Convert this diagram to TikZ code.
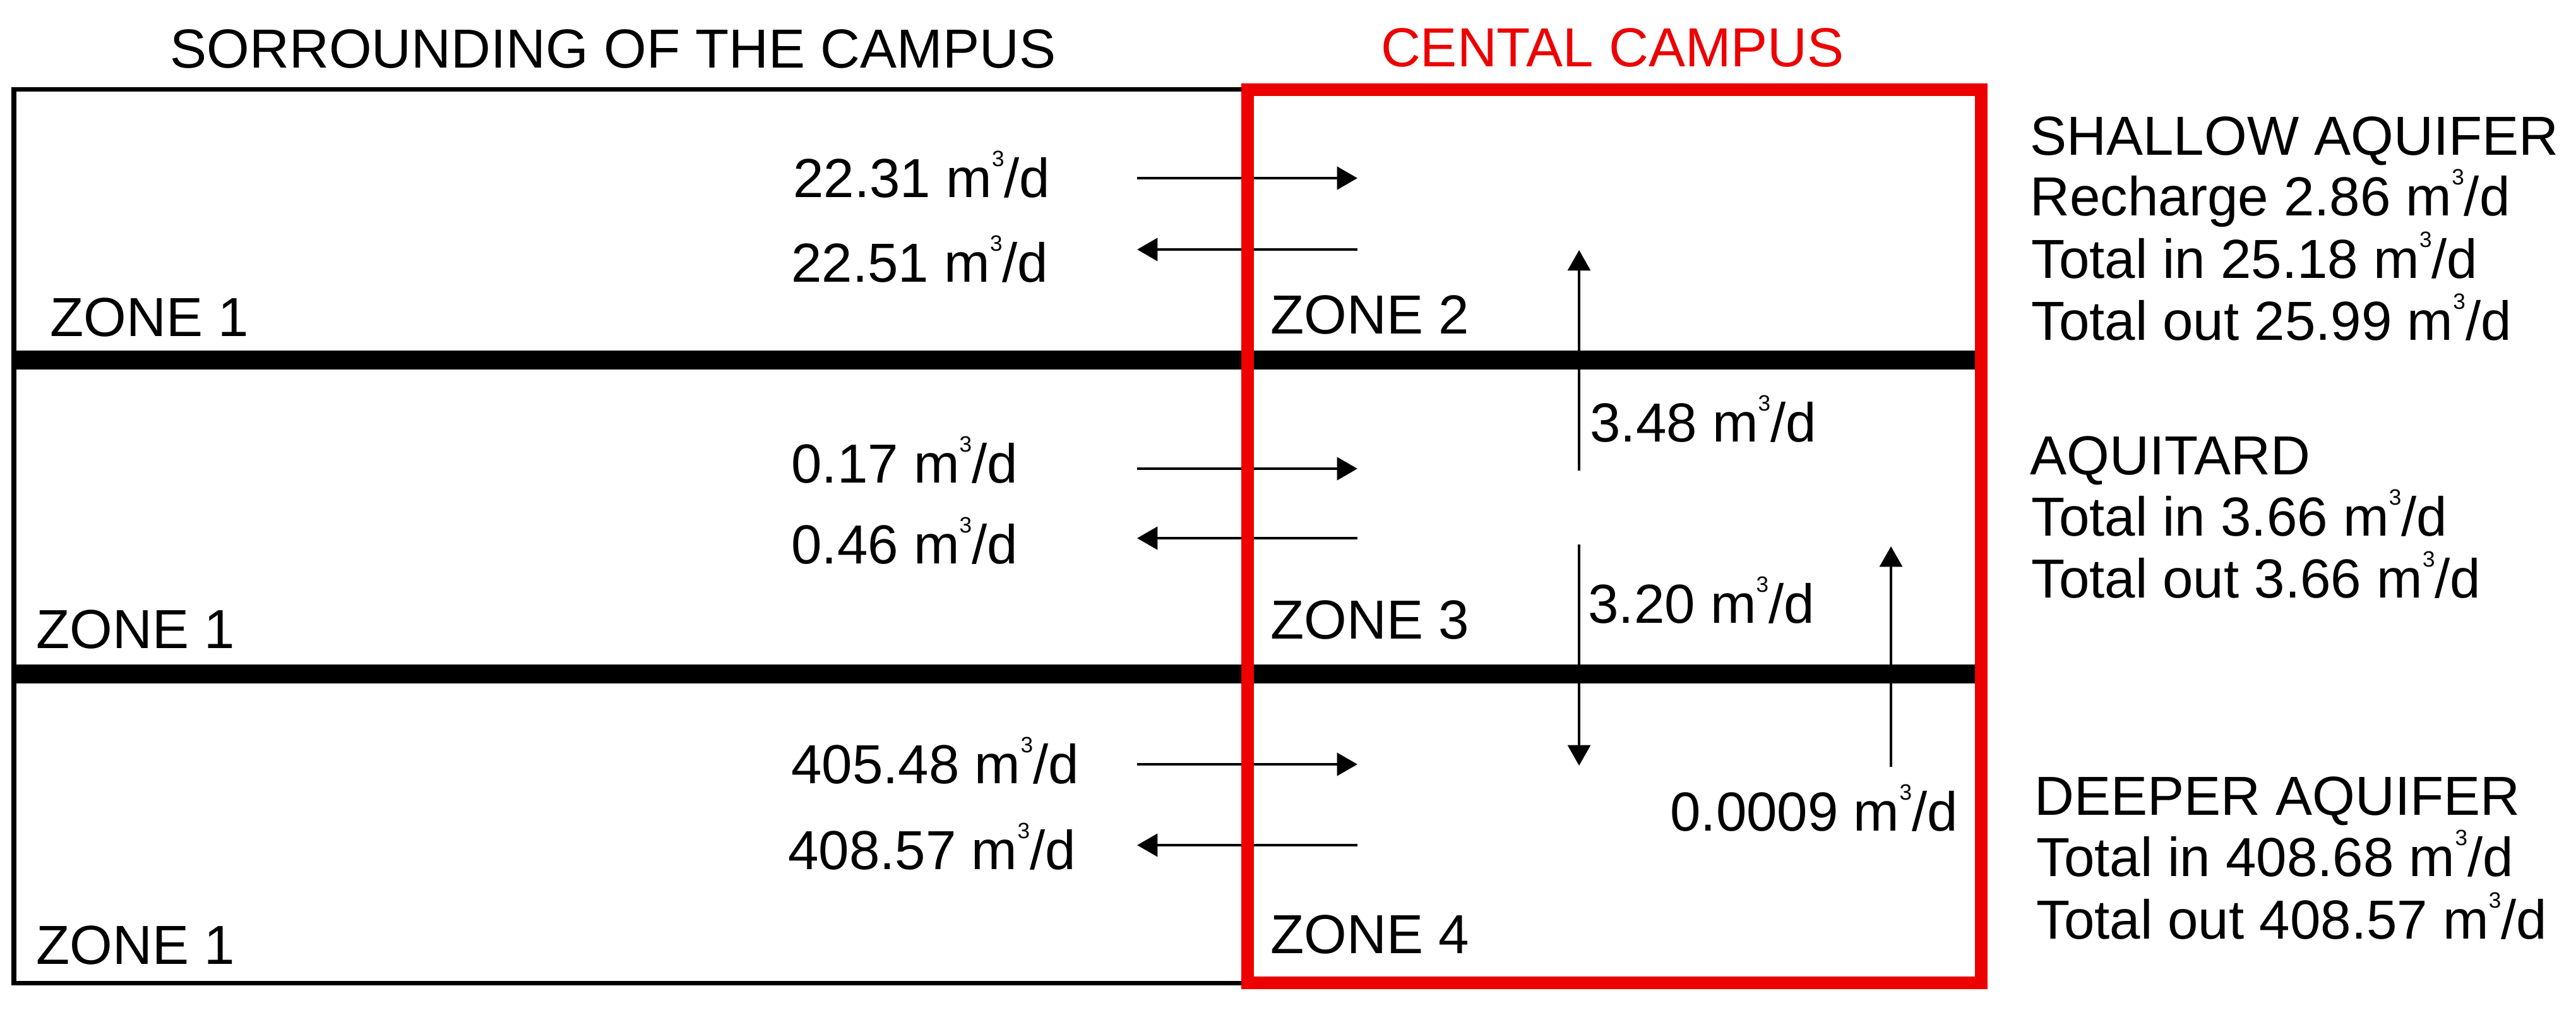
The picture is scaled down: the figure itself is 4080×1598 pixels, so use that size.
\documentclass[tikz,border=0pt]{standalone}
\usepackage{fontspec}
\setmainfont{Liberation Sans}
\usetikzlibrary{arrows.meta, positioning}
\definecolor{campusred}{RGB}{236,0,0}
\newcommand{\qunit}{m\raisebox{1.05ex}{\fontsize{5}{5}\selectfont 3}/d}
\tikzset{
        >={Triangle[length=4.6pt,width=5.1pt]}, % filled arrow heads
        txt/.style={inner sep=0pt, anchor=base west},
        hflow/.style={->, line width=0.7pt},
        vflow/.style={->, line width=0.5pt},
        bar/.style={line width=4.3pt},
        outline/.style={line width=1pt},
        campus/.style={draw=campusred, line width=2.9pt}
        }

\begin{document}
\begin{tikzpicture}[x=0.005cm, y=-0.005cm, font=\fontsize{12.4}{14}\selectfont]
        \useasboundingbox (0,0) rectangle (4080,1598);
        % titles
        \node[inner sep=0pt, anchor=base] (tsur) at (971,107) {SORROUNDING OF THE CAMPUS};
        \node[inner sep=0pt, anchor=base, text=campusred] (tcen) at (2554,105) {CENTAL CAMPUS};

        % corners of the model
        \coordinate (tl) at (22,141);
        \coordinate (tm) at (1976,141);
        \coordinate (bl) at (22,1556);
        \coordinate (bm) at (1976,1556);
        \coordinate (l1w) at (22,570);
        \coordinate (l1e) at (3138,570);
        \coordinate (l2w) at (22,1067);
        \coordinate (l2e) at (3138,1067);
        \coordinate (ctl) at (1976,142);
        \coordinate (cbr) at (3138,1556);

        % lateral flows
        \coordinate (a1w) at (1801,282);  \coordinate (a1e) at (2150,282);
        \coordinate (a2w) at (1801,395);  \coordinate (a2e) at (2150,395);
        \coordinate (a3w) at (1801,742);  \coordinate (a3e) at (2150,742);
        \coordinate (a4w) at (1801,852);  \coordinate (a4e) at (2150,852);
        \coordinate (a5w) at (1801,1210); \coordinate (a5e) at (2150,1210);
        \coordinate (a6w) at (1801,1338); \coordinate (a6e) at (2150,1338);
        \draw[hflow] (a1w) -- (a1e);
        \draw[hflow] (a2e) -- (a2w);
        \draw[hflow] (a3w) -- (a3e);
        \draw[hflow] (a4e) -- (a4w);
        \draw[hflow] (a5w) -- (a5e);
        \draw[hflow] (a6e) -- (a6w);

        % vertical flows
        \coordinate (v1s) at (2501,745);  \coordinate (v1t) at (2501,396);
        \coordinate (v2s) at (2501,862);  \coordinate (v2t) at (2501,1212);
        \coordinate (v3s) at (2995,1214); \coordinate (v3t) at (2995,865);
        \draw[vflow] (v1s) -- (v1t);
        \draw[vflow] (v2s) -- (v2t);
        \draw[vflow] (v3s) -- (v3t);

        % layers and frames
        \draw[outline] (tm) -- (tl) -- (bl) -- (bm);
        \draw[bar] (l1w) -- (l1e);
        \draw[bar] (l2w) -- (l2e);
        \draw[campus] (ctl) rectangle (cbr);

        % zones
        \node[txt] (z1a) at (78,532) {ZONE 1};
        \node[txt] (z1b) at (56,1026) {ZONE 1};
        \node[txt] (z1c) at (56,1526) {ZONE 1};
        \node[txt] (z2) at (2011,528) {ZONE 2};
        \node[txt] (z3) at (2011,1011) {ZONE 3};
        \node[txt] (z4) at (2011,1509) {ZONE 4};

        % flow values
        \node[txt] (q1) at (1255,312) {22.31 \qunit};
        \node[txt] (q2) at (1252,446) {22.51 \qunit};
        \node[txt] (q3) at (1252,764) {0.17 \qunit};
        \node[txt] (q4) at (1252,892) {0.46 \qunit};
        \node[txt] (q5) at (1252,1240) {405.48 \qunit};
        \node[txt] (q6) at (1247,1376) {408.57 \qunit};
        \node[txt] (q7) at (2517,699) {3.48 \qunit};
        \node[txt] (q8) at (2514,986) {3.20 \qunit};
        \node[txt] (q9) at (2644,1315) {0.0009 \qunit};

        % budgets
        \node[txt] (sa) at (3214,245) {SHALLOW AQUIFER};
        \node[txt] (sa1) at (3214,341) {Recharge 2.86 \qunit};
        \node[txt] (sa2) at (3216,440) {Total in 25.18 \qunit};
        \node[txt] (sa3) at (3216,538) {Total out 25.99 \qunit};
        \node[txt] (aq) at (3214,751) {AQUITARD};
        \node[txt] (aq1) at (3216,848) {Total in 3.66 \qunit};
        \node[txt] (aq2) at (3216,946) {Total out 3.66 \qunit};
        \node[txt] (da) at (3221,1290) {DEEPER AQUIFER};
        \node[txt] (da1) at (3224,1387) {Total in 408.68 \qunit};
        \node[txt] (da2) at (3224,1486) {Total out 408.57 \qunit};
\end{tikzpicture}
\end{document}
